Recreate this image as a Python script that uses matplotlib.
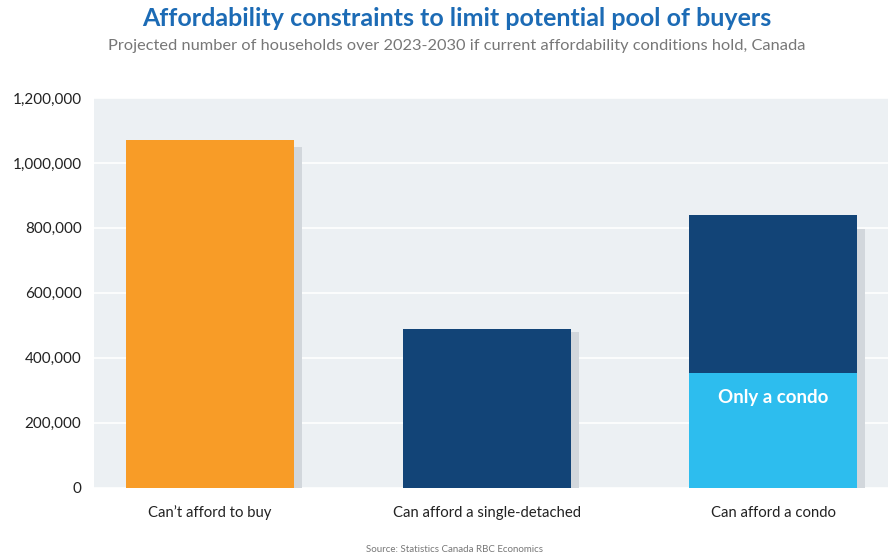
import numpy as np
import matplotlib
matplotlib.use("Agg")
import matplotlib.pyplot as plt
from matplotlib.ticker import FuncFormatter

plt.rcParams['font.family'] = ['Lato', 'DejaVu Sans']

# households 2023-2030
categories = ["Can\u2019t afford to buy", "Can afford a single-detached", "Can afford a condo"]
total_households = [1070000, 488000, 839000]
condo_only = [0, 0, 352000]
shadow_values = [1049000, 479000, 796000]
bar_colors = ["#f89c27", "#124477", "#124477"]
condo_color = "#2dbdee"
shadow_color = "#d2d7dc"
y_ticks = [0, 200000, 400000, 600000, 800000, 1000000, 1200000]

fig = plt.figure(figsize=(8.88, 5.56), dpi=100)
ax = fig.add_axes([94 / 888, 1 - 487.5 / 556, 794 / 888, (487.5 - 98) / 556])
ax.set_facecolor("#ecf0f3")

x = np.array([0.0, 0.985, 2.0])
width = 0.597
shift = 0.027  # shadow sits a few pixels to the right

ax.bar(x + shift, shadow_values, width=width, color=shadow_color, zorder=2)
ax.bar(x, total_households, width=width, color=bar_colors, zorder=3)
ax.bar(x, condo_only, width=width, color=condo_color, zorder=4)
ax.text(x[2], condo_only[2] - 75000, "Only a condo", color="white", fontsize=13.5,
        fontweight="bold", ha="center", va="center", zorder=5)

ax.set_xlim(-0.412, 2.408)
ax.set_ylim(0, 1200000)
ax.set_yticks(y_ticks)
ax.yaxis.set_major_formatter(FuncFormatter(lambda v, p: f"{int(v):,}"))
ax.grid(axis="y", color="white", linewidth=1.2, zorder=1)
ax.set_axisbelow(True)
ax.set_xticks(x)
ax.set_xticklabels(categories)
ax.tick_params(axis="both", length=0, labelsize=11, labelcolor="#222222")
ax.tick_params(axis="x", pad=13, labelsize=10.7)
ax.tick_params(axis="y", pad=9)
for s in ax.spines.values():
    s.set_visible(False)

fig.text(0.514, 1 - 18 / 556, "Affordability constraints to limit potential pool of buyers",
         ha="center", va="center", fontsize=18, fontweight="bold", color="#1c6bb5")
fig.text(0.514, 1 - 46 / 556,
         "Projected number of households over 2023-2030 if current affordability conditions hold, Canada",
         ha="center", va="center", fontsize=11.8, color="#777777")
fig.text(0.512, 1 - 549 / 556, "Source: Statistics Canada RBC Economics",
         ha="center", va="center", fontsize=7, color="#777777")

fig.savefig("out.png", dpi=100)
